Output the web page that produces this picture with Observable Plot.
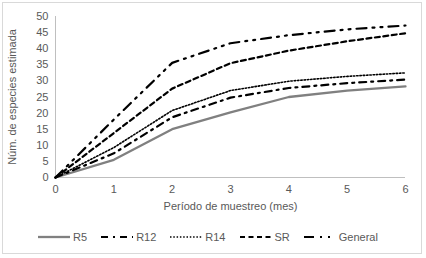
<!DOCTYPE html>
<html>
<head>
<meta charset="utf-8">
<script src="https://cdn.jsdelivr.net/npm/d3@7"></script>
<script src="https://cdn.jsdelivr.net/npm/@observablehq/plot@0.6"></script>
<style>
  html, body { margin: 0; padding: 0; background: #fff; }
  body { width: 426px; height: 258px; overflow: hidden; position: relative; font-family: "Liberation Sans", Arial, sans-serif; }
  #frame { position: absolute; left: 2px; top: 2px; width: 420px; height: 252px; border: 1px solid #d9d9d9; box-sizing: border-box; pointer-events: none; }
  #legend { display: flex; justify-content: center; align-items: center; height: 43px; font-size: 11px; color: #595959; padding-right: 10px; box-sizing: border-box; }
  .item { display: flex; align-items: center; margin: 0 7px; }
  .item svg { margin-right: 3px; }
</style>
</head>
<body>
<div id="chart"></div>
<div id="legend"></div>
<div id="frame"></div>
<script>
const months = [0, 1, 2, 3, 4, 5, 6];
const seriesNames = ["R5", "R12", "R14", "SR", "General"];
const R5 = [0, 5.5, 15, 20.2, 25, 27, 28.3];
const R12 = [0, 7.5, 18.7, 24.8, 27.8, 29.3, 30.4];
const R14 = [0, 9.3, 20.8, 27, 29.9, 31.4, 32.5];
const SR = [0, 13.8, 27.6, 35.5, 39.4, 42.3, 44.8];
const General = [0, 18, 35.6, 41.7, 44.2, 46, 47.2];
const xTicks = [0, 1, 2, 3, 4, 5, 6];
const yTicks = [0, 5, 10, 15, 20, 25, 30, 35, 40, 45, 50];

const valuesBySeries = {R5, R12, R14, SR, General};
const styles = {
  R5: {stroke: "#808080", strokeWidth: 2.3, dash: null},
  R12: {stroke: "#000", strokeWidth: 2.2, dash: "7,5,2,5"},
  R14: {stroke: "#000", strokeWidth: 1.6, dash: "1.5,1.8"},
  SR: {stroke: "#000", strokeWidth: 2.2, dash: "5,3.5"},
  General: {stroke: "#000", strokeWidth: 2.2, dash: "10,6,2,6,2,6"}
};

const marks = [
  Plot.ruleY([0], {stroke: "#bfbfbf", strokeWidth: 1}),
  Plot.ruleX([0], {y1: 0, y2: 50, stroke: "#bfbfbf", strokeWidth: 1})
];
for (const name of seriesNames) {
  const data = months.map((m, i) => ({x: m, y: valuesBySeries[name][i]}));
  const s = styles[name];
  marks.push(Plot.line(data, {x: "x", y: "y", stroke: s.stroke, strokeWidth: s.strokeWidth, strokeDasharray: s.dash}));
}

const chart = Plot.plot({
  width: 426,
  height: 215,
  marginLeft: 55,
  marginRight: 21,
  marginTop: 16,
  marginBottom: 38,
  style: {fontFamily: "'Liberation Sans', Arial, sans-serif", fontSize: "11px", color: "#595959", background: "#fff", overflow: "visible"},
  x: {domain: [0, 6], ticks: xTicks, tickFormat: "d", tickSize: 0, tickPadding: 8, label: "Período de muestreo (mes)", labelAnchor: "center", labelOffset: 32, labelArrow: "none"},
  y: {domain: [0, 50], ticks: yTicks, tickFormat: "d", tickSize: 0, tickPadding: 7, label: "Núm. de especies estimada", labelAnchor: "center", labelOffset: 47, labelArrow: "none"},
  marks
});
document.getElementById("chart").appendChild(chart);

const legend = document.getElementById("legend");
for (const name of seriesNames) {
  const s = styles[name];
  const item = document.createElement("div");
  item.className = "item";
  const w = 32;
  item.innerHTML = `<svg width="${w}" height="8"><line x1="0" y1="4" x2="${w}" y2="4" stroke="${s.stroke}" stroke-width="${s.strokeWidth}" ${s.dash ? `stroke-dasharray="${s.dash}"` : ""}/></svg><span>${name}</span>`;
  legend.appendChild(item);
}
</script>
</body>
</html>
